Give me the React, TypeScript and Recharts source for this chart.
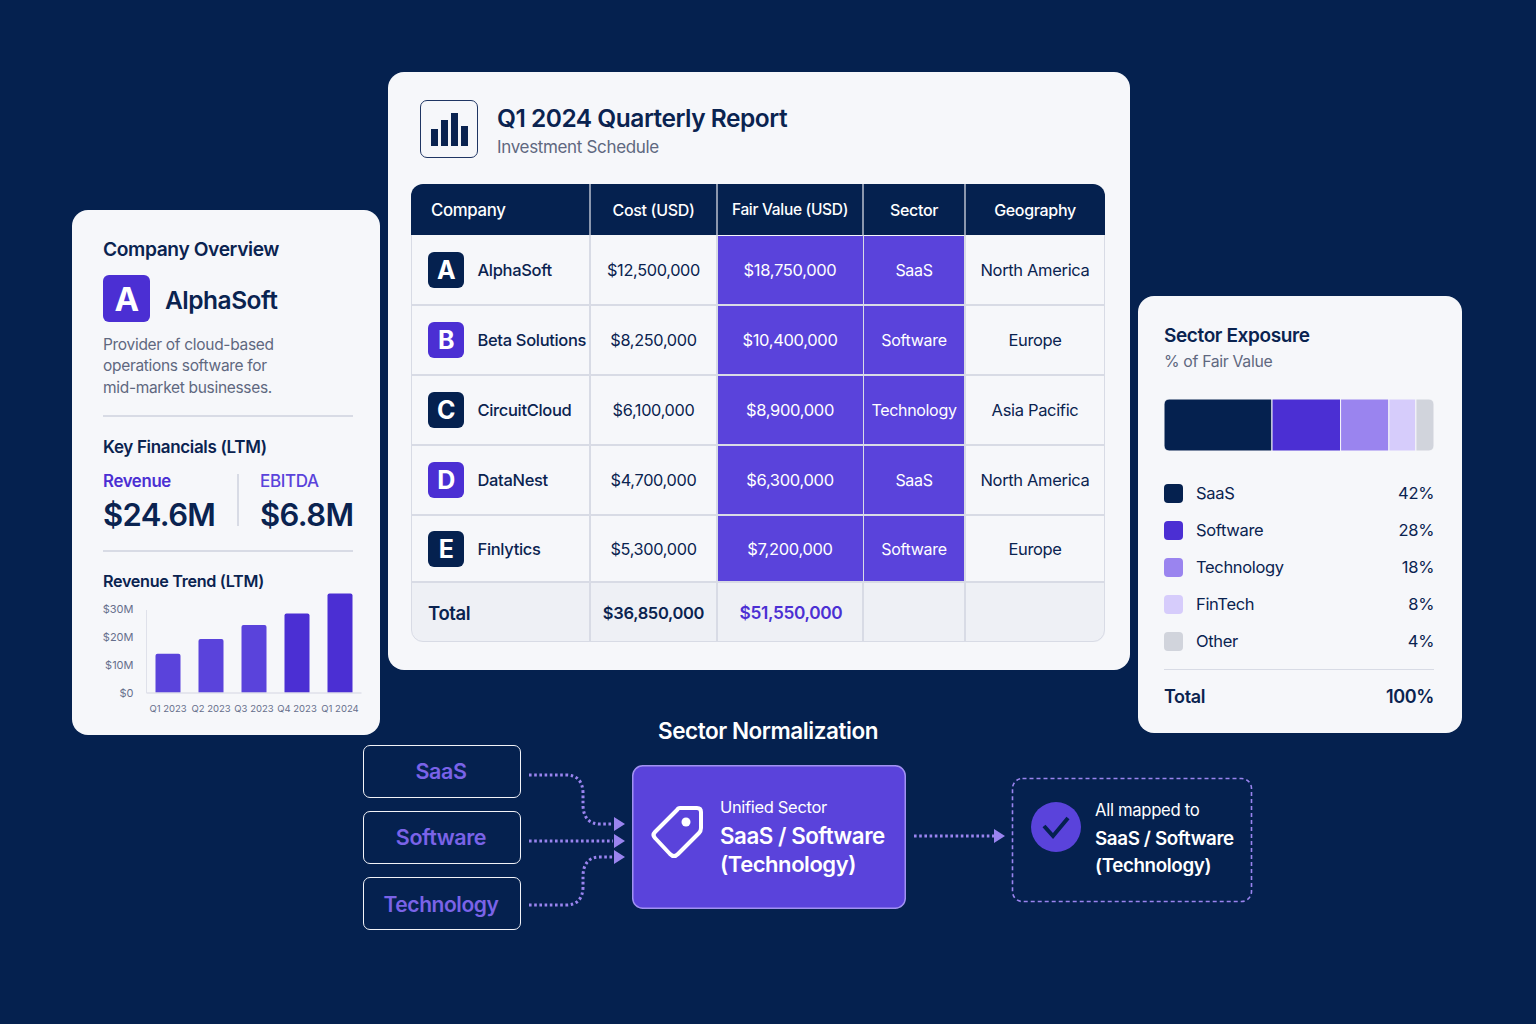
import { BarChart, Bar, XAxis, YAxis, Cell } from 'recharts';

const NAVY = '#05214f';
const INK = '#0a2350';
const PURPLE = '#5a43db';
const DEEP = '#4b2fd3';
const LILAC = '#9a84ef';
const GREY = '#5f6880';
const LINE = '#d8dbe5';
const CARD = '#f6f7fa';

const companies = ['AlphaSoft', 'Beta Solutions', 'CircuitCloud', 'DataNest', 'Finlytics'];
const letters = ['A', 'B', 'C', 'D', 'E'];
const costs = ['$12,500,000', '$8,250,000', '$6,100,000', '$4,700,000', '$5,300,000'];
const fairValues = ['$18,750,000', '$10,400,000', '$8,900,000', '$6,300,000', '$7,200,000'];
const rowSectors = ['SaaS', 'Software', 'Technology', 'SaaS', 'Software'];
const geographies = ['North America', 'Europe', 'Asia Pacific', 'North America', 'Europe'];
const headers = ['Company', 'Cost (USD)', 'Fair Value (USD)', 'Sector', 'Geography'];

const quarters = ['Q1 2023', 'Q2 2023', 'Q3 2023', 'Q4 2023', 'Q1 2024'];
const revenue = [14, 19.3, 24.3, 28.4, 35.5];
const revenueTicks = [0, 10, 20, 30];
const revenueColors = [PURPLE, PURPLE, PURPLE, DEEP, DEEP];

const sectorNames = ['SaaS', 'Software', 'Technology', 'FinTech', 'Other'];
const sectorPct = [42, 28, 18, 8, 4];
// segment widths as drawn in the reference, they don't follow the printed percentages
const sectorBarShare = [40, 25.4, 17.9, 10, 6.7];
const sectorColors = ['#05214f', DEEP, LILAC, '#d6ccfb', '#d1d4dc'];

const sourceSectors = ['SaaS', 'Software', 'Technology'];

const colX = [411, 590, 717, 863, 965, 1105];
const rowY = [235, 305, 375, 445, 515, 582, 642];

const revenueData = quarters.map((q, i) => ({ q, value: revenue[i] }));
const shareRow: Record<string, any> = { name: 'share' };
sectorNames.forEach((s, i) => (shareRow[s] = sectorBarShare[i]));

type TProps = {
  x: number; y: number; size: number; color?: string; weight?: number;
  align?: 'left' | 'center' | 'right'; children: any;
};
function T({ x, y, size, color = INK, weight = 400, align = 'left', children }: TProps) {
  const tx = align === 'left' ? '0' : align === 'center' ? '-50%' : '-100%';
  return (
    <div style={{ position: 'absolute', left: x, top: y, transform: `translate(${tx}, -50%)`, fontSize: size, color, fontWeight: weight, whiteSpace: 'nowrap', lineHeight: 1, letterSpacing: '-0.02em' }}>
      {children}
    </div>
  );
}

function Box({ x, y, w, h, style }: { x: number; y: number; w: number; h: number; style?: any }) {
  return <div style={{ position: 'absolute', left: x, top: y, width: w, height: h, boxSizing: 'border-box', ...style }} />;
}

function Card({ x, y, w, h }: { x: number; y: number; w: number; h: number }) {
  return <Box x={x} y={y} w={w} h={h} style={{ background: CARD, borderRadius: 16 }} />;
}

function LeftCard() {
  return (
    <>
      <Card x={72} y={210} w={308} h={525} />
      <T x={103} y={250} size={19.2} weight={600}>Company Overview</T>
      <Box x={103} y={275} w={47} h={47} style={{ background: DEEP, borderRadius: 6 }} />
      <T x={126.5} y={299} size={33} weight={700} color="#fff" align="center">A</T>
      <T x={165} y={300} size={24.5} weight={600}>AlphaSoft</T>
      <T x={103} y={345} size={15.5} color={GREY}>Provider of cloud-based</T>
      <T x={103} y={366} size={15.5} color={GREY}>operations software for</T>
      <T x={103} y={388} size={15.5} color={GREY}>mid-market businesses.</T>
      <Box x={103} y={415} w={250} h={1.5} style={{ background: LINE }} />
      <T x={103} y={447} size={17} weight={600}>Key Financials (LTM)</T>
      <T x={103} y={481} size={16.8} weight={600} color={DEEP}>Revenue</T>
      <T x={260} y={481} size={17} weight={500} color={PURPLE}>EBITDA</T>
      <T x={103} y={514} size={31} weight={600}>$24.6M</T>
      <T x={260} y={514} size={31} weight={600}>$6.8M</T>
      <Box x={237} y={474} w={1.5} h={52} style={{ background: LINE }} />
      <Box x={103} y={550} w={250} h={1.5} style={{ background: LINE }} />
      <T x={103} y={581} size={16.2} weight={600}>Revenue Trend (LTM)</T>
      <div style={{ position: 'absolute', left: 100, top: 585, width: 270, height: 135 }}>
        <BarChart width={270} height={135} data={revenueData} margin={{ top: 8.5, right: 8.5, bottom: 0, left: 0 }}>
          <XAxis dataKey="q" height={27} interval={0} tickLine={false} tickMargin={6}
            axisLine={{ stroke: '#dfe1ea', strokeWidth: 1.5 }}
            tick={{ fontSize: 9.5, fill: '#666f8c' }} />
          <YAxis width={46.5} domain={[0, 35.5]} ticks={revenueTicks} tickLine={false} axisLine={false} tickMargin={7}
            tickFormatter={(v: number) => `$${v === 0 ? 0 : v + 'M'}`}
            tick={{ fontSize: 11, fill: '#666f8c' }} />
          <Bar dataKey="value" barSize={25} radius={[2, 2, 0, 0]} isAnimationActive={false}>
            {revenueData.map((d, i) => <Cell key={d.q} fill={revenueColors[i]} />)}
          </Bar>
        </BarChart>
      </div>
      <Box x={145.5} y={610} w={1.5} h={83} style={{ background: '#dfe1ea' }} />
    </>
  );
}

function TableCard() {
  const rows = companies.map((_, i) => i);
  const mid = (a: number, b: number) => (a + b) / 2;
  return (
    <>
      <Card x={388} y={72} w={742} h={598} />
      <Box x={420} y={100} w={58} h={58} style={{ border: '1.5px solid #1f3563', borderRadius: 7 }} />
      {[[431, 17], [441, 26], [451, 33], [461, 20]].map(([x, h]) => (
        <Box key={x} x={x} y={146 - h} w={7} h={h} style={{ background: INK }} />
      ))}
      <T x={497} y={118} size={24.5} weight={600}>Q1 2024 Quarterly Report</T>
      <T x={497} y={147} size={17} color={GREY}>Investment Schedule</T>

      <Box x={411} y={184} w={694} h={51} style={{ background: NAVY, borderRadius: '12px 12px 0 0' }} />
      {headers.map((h, c) => (
        c === 0
          ? <T key={h} x={431} y={209.5} size={16.8} weight={500} color="#fff">{h}</T>
          : <T key={h} x={mid(colX[c], colX[c + 1])} y={209.5} size={c === 2 ? 15.5 : 16} weight={500} color="#fff" align="center">{h}</T>
      ))}
      <Box x={411.5} y={582} w={693} h={59.5} style={{ background: '#eef0f5', borderRadius: '0 0 11px 11px' }} />
      <Box x={411} y={184} w={694} h={458} style={{ border: `1.5px solid ${LINE}`, borderRadius: 12, clipPath: 'inset(51px 0 0 0)' }} />
      {rowY.slice(1, 6).map(y => <Box key={y} x={411} y={y - 0.75} w={694} h={1.5} style={{ background: LINE }} />)}
      {colX.slice(1, 5).map(x => <Box key={x} x={x - 0.75} y={184} w={1.5} h={51} style={{ background: '#8b97ae' }} />)}
      {colX.slice(1, 5).map(x => <Box key={x} x={x - 0.75} y={235} w={1.5} h={407} style={{ background: LINE }} />)}

      {rows.map(r => {
        const y = mid(rowY[r], rowY[r + 1]);
        return (
          <div key={r}>
            <Box x={717.5} y={rowY[r] + 0.75} w={145} h={rowY[r + 1] - rowY[r] - 1.5} style={{ background: PURPLE }} />
            <Box x={864} y={rowY[r] + 0.75} w={100} h={rowY[r + 1] - rowY[r] - 1.5} style={{ background: PURPLE }} />
            <Box x={428} y={y - 18} w={36} h={36} style={{ background: r % 2 === 0 ? NAVY : DEEP, borderRadius: 6 }} />
            <T x={446} y={y} size={25} weight={700} color="#fff" align="center">{letters[r]}</T>
            <T x={477.5} y={y} size={16.5} weight={500}>{companies[r]}</T>
            <T x={mid(colX[1], colX[2])} y={y} size={16.3} align="center">{costs[r]}</T>
            <T x={mid(colX[2], colX[3])} y={y} size={16.5} color="#fff" align="center">{fairValues[r]}</T>
            <T x={mid(colX[3], colX[4])} y={y} size={16} color="#fff" align="center">{rowSectors[r]}</T>
            <T x={mid(colX[4], colX[5])} y={y} size={16.5} align="center">{geographies[r]}</T>
          </div>
        );
      })}
      <T x={428} y={613} size={18.5} weight={600}>Total</T>
      <T x={653.5} y={613} size={16.5} weight={600} align="center">$36,850,000</T>
      <T x={791} y={613} size={17.3} weight={600} color={DEEP} align="center">$51,550,000</T>
    </>
  );
}

function SectorCard() {
  const rowsY = [493, 530, 567, 604, 641];
  return (
    <>
      <Card x={1138} y={296} w={324} h={437} />
      <T x={1164} y={335} size={19} weight={600}>Sector Exposure</T>
      <T x={1164} y={362} size={15.8} color={GREY}>% of Fair Value</T>
      <div style={{ position: 'absolute', left: 1164, top: 399, width: 270, height: 52 }}>
        <BarChart width={270} height={52} data={[shareRow]} layout="vertical" barCategoryGap={0}
          margin={{ top: 0, right: 0, bottom: 0, left: 0 }}>
          <XAxis type="number" hide domain={[0, 100]} />
          <YAxis type="category" dataKey="name" hide />
          {sectorNames.map((s, i) => (
            <Bar key={s} dataKey={s} stackId="share" fill={sectorColors[i]} stroke={CARD} strokeWidth={1}
              radius={i === 0 ? [5, 0, 0, 5] : i === sectorNames.length - 1 ? [0, 5, 5, 0] : 0}
              isAnimationActive={false} />
          ))}
        </BarChart>
      </div>
      {sectorNames.map((s, i) => (
        <div key={s}>
          <Box x={1164} y={rowsY[i] - 9.5} w={19} h={19} style={{ background: sectorColors[i], borderRadius: 4 }} />
          <T x={1196} y={rowsY[i]} size={16.5}>{s}</T>
          <T x={1434} y={rowsY[i]} size={16.5} align="right">{sectorPct[i]}%</T>
        </div>
      ))}
      <Box x={1164} y={668.5} w={270} h={1.5} style={{ background: LINE }} />
      <T x={1164} y={697} size={18} weight={600}>Total</T>
      <T x={1434} y={697} size={18} weight={600} align="right">100%</T>
    </>
  );
}

function Flow() {
  const dots = { fill: 'none', stroke: LILAC, strokeWidth: 3, strokeDasharray: '2.6 2.6' };
  const boxY = [745, 811, 877];
  return (
    <>
      <T x={768} y={731} size={22.5} weight={600} color="#fff" align="center">Sector Normalization</T>
      {sourceSectors.map((s, i) => (
        <div key={s}>
          <Box x={363} y={boxY[i]} w={158} h={53} style={{ border: '1.5px solid #f2f3f8', borderRadius: 7 }} />
          <T x={441} y={boxY[i] + 27} size={i === 2 ? 21 : 21.5} weight={600} color="#7a63e8" align="center">{s}</T>
        </div>
      ))}
      <svg width={1536} height={1024} style={{ position: 'absolute', left: 0, top: 0 }}>
        <path d="M529 775 H566 Q582 775 583 792 V806 Q584 824 600 824 H613" {...dots} />
        <path d="M529 841 H613" {...dots} />
        <path d="M529 905 H566 Q582 905 583 888 V875 Q584 857 600 857 H613" {...dots} />
        <path d="M914 836 H995" {...dots} />
        <path d="M614 817 L625 824 L614 831Z M614 834 L625 841 L614 848Z M614 850 L625 857 L614 864Z M994 829 L1005 836 L994 843Z" fill={LILAC} />
        <rect x={632.75} y={765.75} width={272.5} height={142.5} rx={10} fill={PURPLE} stroke="#a191f2" strokeWidth={1.5} />
        <path d="M680 808 H697 Q701 808 701 812 V828 Q701 831 699 833 L678 854 Q674 858 670 854 L655 838 Q652 835 655 832 L677 810 Q678 808 680 808Z" fill="none" stroke="#fff" strokeWidth={4} strokeLinejoin="round" />
        <circle cx={686} cy={822} r={4.5} fill="#fff" />
        <rect x={1012.5} y={778.5} width={239} height={123} rx={10} fill="none" stroke={LILAC} strokeWidth={1.6} strokeDasharray="4 3" />
        <circle cx={1056} cy={827} r={25} fill={PURPLE} />
        <path d="M1044 826 L1053 836 L1068 818" fill="none" stroke={NAVY} strokeWidth={4} />
      </svg>
      <T x={720} y={807} size={16.5} color="#fff">Unified Sector</T>
      <T x={720} y={836} size={22.3} weight={600} color="#fff">SaaS / Software</T>
      <T x={720} y={864} size={22} weight={600} color="#fff">(Technology)</T>
      <T x={1095} y={810} size={16.7} color="#fff">All mapped to</T>
      <T x={1095} y={839} size={18.8} weight={600} color="#fff">SaaS / Software</T>
      <T x={1095} y={866} size={18.8} weight={600} color="#fff">(Technology)</T>
    </>
  );
}

export default function App() {
  return (
    <div style={{ position: 'absolute', left: 0, top: 0, width: 1536, height: 1024, background: NAVY, fontFamily: 'Inter, sans-serif', overflow: 'hidden' }}>
      <LeftCard />
      <TableCard />
      <SectorCard />
      <Flow />
    </div>
  );
}
